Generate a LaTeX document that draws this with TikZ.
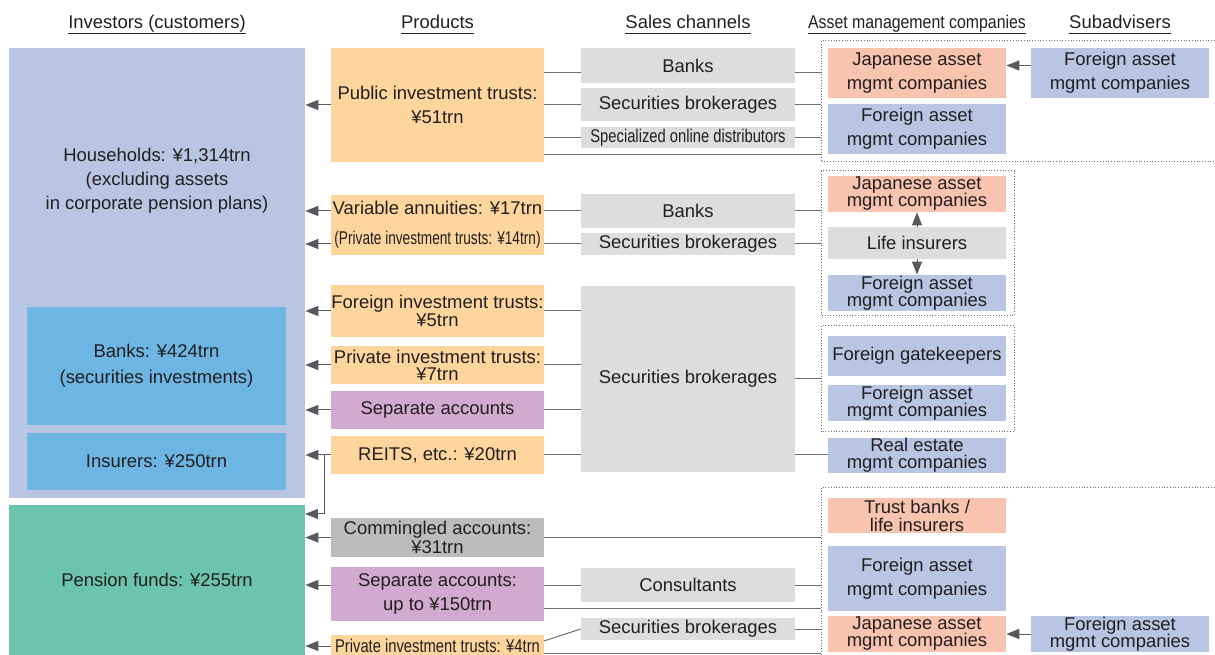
\documentclass[tikz,border=0pt]{standalone}
\usepackage{fontspec}
\setmainfont{Liberation Sans}
\newfontfamily\narrowfont[FakeStretch=0.8]{Liberation Sans}
\newfontfamily\tightfont[FakeStretch=0.74]{Liberation Sans}
\newfontfamily\headnarrow[FakeStretch=0.86]{Liberation Sans}
\usetikzlibrary{arrows.meta}

\begin{document}
\begin{tikzpicture}[x=0.02cm, y=-0.02cm,
    every node/.style={font=\fontsize{10.5pt}{13.6pt}\selectfont, text=textcol},
    box/.style={rectangle, inner sep=0pt, align=center},
    prod/.style={box, fill=prodorange, minimum width=4.26cm},
    chan/.style={box, fill=changray, minimum width=4.28cm},
    amc/.style={box, minimum width=3.56cm},
    head/.style={inner sep=0pt, text depth=2.6pt, anchor=base},
    uline/.style={draw=textcol, line width=0.02cm},
    link/.style={draw=linegray, line width=0.02cm},
    arr/.style={draw=arrowgray, line width=0.02cm, -{Triangle[length=0.26cm,width=0.2cm]}, arrowgray},
    dotbox/.style={draw=linegray, line width=0.02cm, densely dotted}]

% \clip (0,0) rectangle (1215,655);
\useasboundingbox (0,0) rectangle (1215,655);

% Changing colors
\definecolor{textcol}{HTML}{231F20}%
\definecolor{linegray}{HTML}{6D6E70}%
\definecolor{arrowgray}{HTML}{58595B}%
\definecolor{hhblue}{HTML}{B8C6E4}%
\definecolor{bkblue}{HTML}{6DB5E3}%
\definecolor{pengreen}{HTML}{6CC5AB}%
\definecolor{prodorange}{HTML}{FED59D}%
\definecolor{sepurple}{HTML}{D2A9CF}%
\definecolor{changray}{HTML}{DCDDDF}%
\definecolor{cmgray}{HTML}{BBBCBE}%
\definecolor{jpsalmon}{HTML}{F9C4AF}%
\definecolor{fgblue}{HTML}{B8C6E4}%

% Column headings
\node [head] (hdinv) at (157,29) {Investors (customers)};
\node [head] (hdprod) at (437.5,29) {Products};
\node [head] (hdchan) at (688,29) {Sales channels};
\node [head] (hdamc) at (917,29) {\headnarrow Asset management companies};
\node [head] (hdsub) at (1120,29) {Subadvisers};
\foreach \h in {hdinv,hdprod,hdchan,hdamc,hdsub}
  \draw [uline] (\h.south west) -- (\h.south east);

% Drawing investors
\node [box, fill=hhblue, minimum width=5.92cm, minimum height=9cm] (hh) at (157,273) {};
\node [box] (hhtext) at (157,181) {Households: ¥1,314trn\\(excluding assets\\in corporate pension plans)};
\node [box, fill=bkblue, minimum width=5.18cm, minimum height=2.36cm] (bk) at (156.5,366) {Banks: ¥424trn\\[1pt](securities investments)};
\node [box, fill=bkblue, minimum width=5.18cm, minimum height=1.14cm] (ins) at (156.5,461.5) {Insurers: ¥250trn};
\node [box, fill=pengreen, minimum width=5.92cm, minimum height=3cm] (pen) at (157,580) {Pension funds: ¥255trn};

% Drawing products
\node [prod, minimum height=2.28cm] (pit) at (437.5,105) {Public investment trusts:\\¥51trn};
\node [prod, minimum height=1.2cm] (va) at (437.5,225) {Variable annuities: ¥17trn\\[3.4pt]{\tightfont (Private investment trusts: ¥14trn)}};
\node [prod, minimum height=1.04cm] (fit) at (437.5,311) {Foreign investment trusts:\\[-3pt]¥5trn};
\node [prod, minimum height=0.76cm] (pit7) at (437.5,365) {Private investment trusts:\\[-4pt]¥7trn};
\node [prod, fill=sepurple, minimum height=0.76cm] (sa) at (437.5,410) {Separate accounts};
\node [prod, minimum height=0.76cm] (reit) at (437.5,455) {REITS, etc.: ¥20trn};
\node [prod, fill=cmgray, minimum height=0.78cm] (cma) at (437.5,537.5) {Commingled accounts:\\[-3pt]¥31trn};
\node [prod, fill=sepurple, minimum height=1.08cm] (sa2) at (437.5,594) {Separate accounts:\\up to ¥150trn};
\node [prod, minimum height=0.44cm] (pit4) at (437.5,646) {\narrowfont Private investment trusts: ¥4trn};

% Drawing sales channels
\node [chan, minimum height=0.7cm] (ch1) at (688,65.5) {Banks};
\node [chan, minimum height=0.66cm] (ch2) at (688,104.5) {Securities brokerages};
\node [chan, minimum height=0.42cm] (ch3) at (688,137.5) {\narrowfont Specialized online distributors};
\node [chan, minimum height=0.68cm] (ch4) at (688,211) {Banks};
\node [chan, minimum height=0.44cm] (ch5) at (688,244) {Securities brokerages};
\node [chan, minimum height=3.72cm] (ch6) at (688,379) {Securities brokerages};
\node [chan, minimum height=0.68cm] (ch7) at (688,585) {Consultants};
\node [chan, minimum height=0.44cm] (ch8) at (688,629) {Securities brokerages};

% Drawing asset management companies
\node [amc, fill=jpsalmon, minimum height=1cm] (am1) at (917,73) {Japanese asset\\mgmt companies};
\node [amc, fill=fgblue, minimum height=1cm] (am2) at (917,129) {Foreign asset\\mgmt companies};
\node [amc, fill=jpsalmon, minimum height=0.72cm] (am3) at (917,194) {Japanese asset\\[-4pt]mgmt companies};
\node [amc, fill=changray, minimum height=0.64cm] (am4) at (917,243) {Life insurers};
\node [amc, fill=fgblue, minimum height=0.72cm] (am5) at (917,293) {Foreign asset\\[-4pt]mgmt companies};
\node [amc, fill=fgblue, minimum height=0.8cm] (am6) at (917,356) {Foreign gatekeepers};
\node [amc, fill=fgblue, minimum height=0.72cm] (am7) at (917,403) {Foreign asset\\[-4pt]mgmt companies};
\node [amc, fill=fgblue, minimum height=0.7cm] (am8) at (917,455.5) {Real estate\\[-4pt]mgmt companies};
\node [amc, fill=jpsalmon, minimum height=0.7cm] (am9) at (917,515.5) {Trust banks /\\[-3.4pt]life insurers};
\node [amc, fill=fgblue, minimum height=1.3cm] (am10) at (917,578.5) {Foreign asset\\mgmt companies};
\node [amc, fill=jpsalmon, minimum height=0.72cm] (am11) at (917,634) {Japanese asset\\[-4pt]mgmt companies};

% Drawing subadvisers
\node [amc, fill=fgblue, minimum height=1cm] (sub1) at (1120,73) {Foreign asset\\mgmt companies};
\node [amc, fill=fgblue, minimum height=0.72cm] (sub2) at (1120,634) {Foreign asset\\[-4pt]mgmt companies};

% Dotted groups
\coordinate (d1) at (821,41);
\coordinate (d2) at (821,171);
\coordinate (d3) at (821,326);
\coordinate (d4) at (821,488);
\draw [dotbox] (1215,41) -- (d1) -- (821,162) -- (1215,162);
\draw [dotbox] (d2) rectangle (1014,316);
\draw [dotbox] (d3) rectangle (1014,432);
\draw [dotbox] (1215,488) -- (d4) -- (821,655);

% Drawing arrows to households
\draw [arr] (pit.west) -- (pit.west -| hh.east);
\draw [arr] (va.west |- ch4) -- (ch4 -| hh.east);
\draw [arr] (va.west |- ch5) -- (ch5 -| hh.east);
\draw [arr] (fit.west) -- (fit.west -| hh.east);
\draw [arr] (pit7.west) -- (pit7.west -| hh.east);
\draw [arr] (sa.west) -- (sa.west -| hh.east);
\draw [arr] (reit.west) -- (reit.west -| hh.east);

% Drawing arrows to pension funds
\coordinate (rbranch) at (324,455);
\coordinate (pentop) at (305,514);
\draw [arr] (rbranch) |- (pentop);
\draw [arr] (cma.west) -- (cma.west -| pen.east);
\draw [arr] (sa2.west |- ch7) -- (ch7 -| pen.east);
\draw [arr] (pit4.west) -- (pit4.west -| pen.east);

% Drawing links, public investment trusts
\draw [link] (pit.east |- am1) -- (am1 -| ch1.west);
\draw [link] (ch1.east |- am1) -- (am1 -| d1);
\draw [link] (ch2.west -| pit.east) -- (ch2.west);
\draw [link] (ch2.east) -- (ch2 -| d1);
\draw [link] (ch3.west -| pit.east) -- (ch3.west);
\draw [link] (ch3.east) -- (ch3 -| d1);
\draw [link] (pit.east |- am2.south) -- (am2.south -| d1);
\draw [arr] (sub1.west |- ch1) -- (am1.east |- ch1);

% Drawing links, variable annuities
\draw [link] (va.east |- ch4) -- (ch4.west);
\draw [link] (ch4.east) -- (ch4 -| d2);
\draw [link] (va.east |- ch5) -- (ch5.west);
\draw [link] (ch5.east) -- (ch5 -| d2);
\draw [arr] (am4.north) -- (am3.south);
\draw [arr] (am4.south) -- (am5.north);

% Drawing links, securities brokerages
\foreach \p in {fit,pit7,sa,reit}
  \draw [link] (\p.east) -- (\p.east -| ch6.west);
\draw [link] (ch6.east) -- (ch6 -| d3);
\draw [link] (ch6.east |- reit) -- (am8.west |- reit);

% Drawing links, pension funds
\coordinate (sa2low) at (544,608);
\coordinate (p4top) at (544,641);
\coordinate (p4low) at (544,653);
\draw [link] (cma.east) -- (cma -| d4);
\draw [link] (sa2.east |- ch7) -- (ch7.west);
\draw [link] (ch7.east) -- (ch7 -| d4);
\draw [link] (sa2low) -- (sa2low -| d4);
\draw [link] (p4top) -- (ch8.west);
\draw [link] (ch8.east) -- (ch8 -| d4);
\draw [link] (p4low) -- (p4low -| d4);
\draw [arr] (sub2.west) -- (am11.east);

\end{tikzpicture}
\end{document}
